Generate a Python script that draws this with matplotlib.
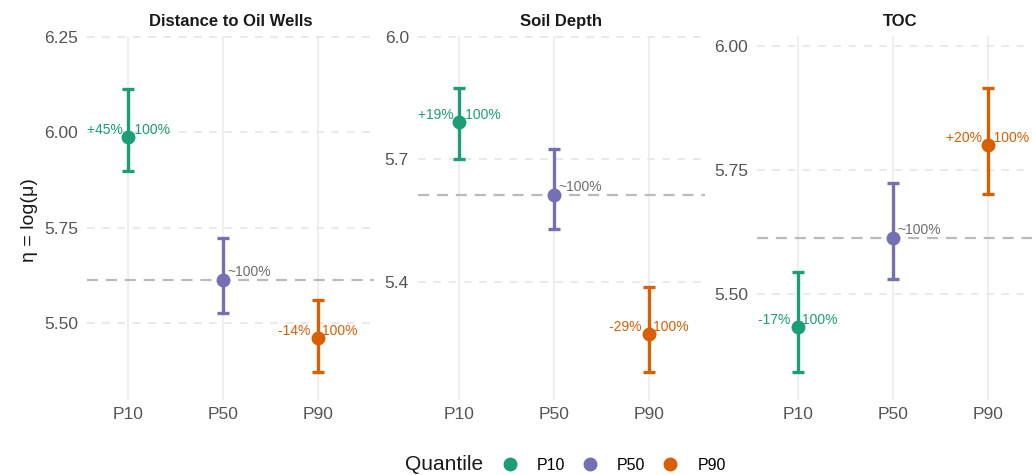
import matplotlib.pyplot as plt
import numpy as np
from matplotlib.lines import Line2D

plt.rcParams['font.family'] = ['Liberation Sans', 'DejaVu Sans']

# data
panels = ["Distance to Oil Wells", "Soil Depth", "TOC"]
quantiles = ["P10", "P50", "P90"]
colors = ["#1B9E77", "#7570B3", "#D95F02"]
ref_eta = 5.613

eta_dist = [5.987, 5.613, 5.461]
lo_dist = [5.900, 5.526, 5.371]
hi_dist = [6.115, 5.724, 5.560]
lab_dist = ["+45%   100%", "~100%", "-14%   100%"]

eta_soil = [5.792, 5.613, 5.273]
lo_soil = [5.700, 5.530, 5.180]
hi_soil = [5.875, 5.726, 5.388]
lab_soil = ["+19%   100%", "~100%", "-29%   100%"]

eta_toc = [5.433, 5.613, 5.800]
lo_toc = [5.343, 5.530, 5.702]
hi_toc = [5.544, 5.724, 5.915]
lab_toc = ["-17%   100%", "~100%", "+20%   100%"]

yticks_dist = [5.50, 5.75, 6.00, 6.25]
yticks_soil = [5.4, 5.7, 6.0]
yticks_toc = [5.50, 5.75, 6.00]

fig = plt.figure(figsize=(10.32, 4.75), dpi=100)
W, H = 1032, 475

specs = [
    (87, eta_dist, lo_dist, hi_dist, lab_dist, yticks_dist, (5.298, 6.253), "%.2f"),
    (418, eta_soil, lo_soil, hi_soil, lab_soil, yticks_soil, (5.111, 6.002), "%.1f"),
    (757, eta_toc, lo_toc, hi_toc, lab_toc, yticks_toc, (5.286, 6.020), "%.2f"),
]

x = np.arange(1, 4)
for (left, eta, lo, hi, labs, yt, ylim, fmt), title in zip(specs, panels):
    ax = fig.add_axes([left / W, (H - 400) / H, 287 / W, 364 / H])
    for s in ax.spines.values():
        s.set_visible(False)
    ax.set_xlim(0.568, 3.589)
    ax.set_ylim(*ylim)
    ax.set_xticks(x)
    ax.set_xticklabels(quantiles)
    ax.set_yticks(yt)
    ax.set_yticklabels([fmt % v for v in yt])
    ax.tick_params(length=0, labelsize=12.5, labelcolor="#555555")
    ax.tick_params(axis='y', pad=6.5)
    ax.tick_params(axis='x', pad=5)
    ax.grid(axis='x', color="#EBEBEB", lw=1.1)
    ax.grid(axis='y', color="#E3E3E3", lw=1.1, linestyle=(0, (5, 5)))
    ax.set_axisbelow(True)
    ax.axhline(ref_eta, color="#BBBBBB", lw=1.6, linestyle=(0, (5, 3.5)), zorder=1)
    for i in range(3):
        ax.errorbar(x[i], eta[i], yerr=[[eta[i] - lo[i]], [hi[i] - eta[i]]],
                    fmt='o', color=colors[i], ms=9, elinewidth=2.4, capsize=4,
                    capthick=2.4, zorder=3)
        if quantiles[i] == "P50":
            ax.annotate(labs[i], (x[i], eta[i]), xytext=(3, 6), textcoords='offset points',
                        ha='left', va='center', fontsize=10, color="#6E6E6E", zorder=2)
        else:
            ax.annotate(labs[i], (x[i], eta[i]), xytext=(0, 5), textcoords='offset points',
                        ha='center', va='center', fontsize=10, color=colors[i], zorder=2)
    ax.set_title(title, fontsize=12, fontweight='bold', color="#1A1A1A", pad=7)

fig.text(30 / W, 1 - 220 / H, "η = log(μ)", rotation=90, ha='center', va='center',
         fontsize=14, color="#1A1A1A")

fig.text(405 / W, 1 - 465 / H, "Quantile", ha='left', va='center', fontsize=15, color="#1A1A1A")
handles = [Line2D([], [], marker='o', linestyle='none', color=c, ms=9) for c in colors]
fig.legend(handles, quantiles, ncol=3, loc='center left', bbox_to_anchor=(500 / W, 1 - 465 / H),
           frameon=False, fontsize=11.5, handletextpad=1.1, columnspacing=0.95,
           handlelength=1.2, borderaxespad=0, borderpad=0)

fig.savefig("out.png", dpi=100, facecolor='white')
